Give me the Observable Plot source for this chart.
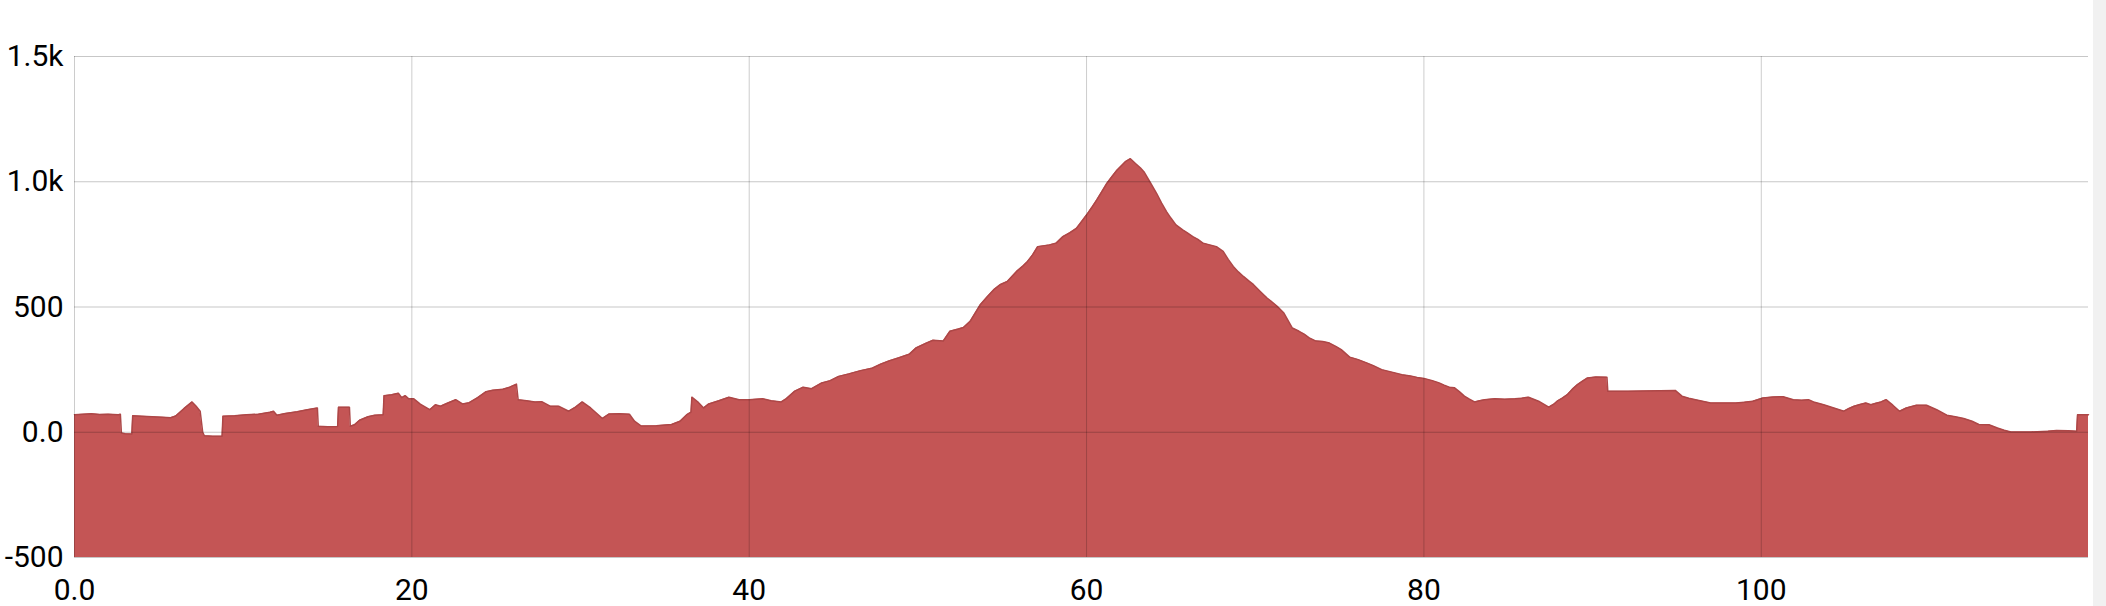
<!DOCTYPE html>
<html>
<head>
<meta charset="utf-8">
<script src="https://cdn.jsdelivr.net/npm/d3@7"></script>
<script src="https://cdn.jsdelivr.net/npm/@observablehq/plot@0.6"></script>
<style>
  html, body { margin: 0; padding: 0; background: #fff; overflow: hidden; }
  #chart { position: absolute; left: 0; top: 0; }
  #strip { position: absolute; right: 0; top: 0; width: 13px; height: 606px; background: #f1f1f1; }
</style>
</head>
<body>
<div id="chart"></div>
<div id="strip"></div>
<script>
// Distance along the route (x) and elevation (y)
const distance = [
  0, 0.5, 1.0, 1.5, 2.0, 2.6, 2.72, 2.78, 3.0, 3.4, 3.45, 4.0, 4.6, 5.2, 5.7, 6.0, 6.5, 6.97, 7.2, 7.45,
  7.6, 7.7, 8.2, 8.75, 8.8, 9.5, 10.2, 10.9, 11.6, 11.8, 12.0, 12.5, 13.2, 13.8, 14.4, 14.45, 15.0, 15.6, 15.65, 16.3,
  16.35, 16.6, 16.9, 17.4, 17.8, 18.3, 18.35, 18.8, 19.2, 19.4, 19.6, 19.8, 20.1, 20.5, 21.06, 21.4, 21.7, 22.1, 22.6, 23.0,
  23.4, 23.9, 24.4, 24.8, 25.4, 25.8, 26.2, 26.3, 26.8, 27.3, 27.7, 28.2, 28.7, 29.3, 29.7, 30.1, 30.6, 31.3, 31.7, 32.3,
  32.9, 33.2, 33.6, 34.5, 35.4, 35.9, 36.3, 36.55, 36.6, 37.0, 37.3, 37.6, 38.2, 38.8, 39.4, 40.0, 40.8, 41.3, 41.9, 42.2,
  42.7, 43.2, 43.7, 44.3, 44.8, 45.3, 45.9, 46.6, 47.3, 47.8, 48.3, 48.9, 49.5, 49.9, 50.5, 50.9, 51.5, 51.9, 52.4, 52.7,
  53.1, 53.7, 54.1, 54.5, 54.9, 55.3, 55.85, 56.2, 56.5, 56.8, 57.1, 57.5, 57.8, 58.2, 58.6, 59.0, 59.4, 59.7, 60.0, 60.3,
  60.6, 60.9, 61.2, 61.5, 61.8, 62.3, 62.6, 62.9, 63.2, 63.4, 63.75, 64.15, 64.45, 64.74, 65.0, 65.3, 65.7, 66.0, 66.3, 66.6,
  66.9, 67.3, 67.7, 68.1, 68.4, 68.7, 69.0, 69.3, 69.6, 69.9, 70.3, 70.7, 71.0, 71.3, 71.7, 72.0, 72.2, 72.6, 72.9, 73.2,
  73.6, 74.0, 74.4, 74.8, 75.1, 75.6, 76.1, 76.6, 77.0, 77.5, 78.1, 78.7, 79.2, 79.6, 80.0, 80.5, 80.9, 81.2, 81.5, 81.8,
  82.1, 82.4, 82.7, 83.0, 83.3, 83.6, 84.2, 84.8, 85.4, 85.8, 86.2, 86.5, 86.8, 87.1, 87.4, 87.7, 87.9, 88.2, 88.5, 88.8,
  89.1, 89.4, 89.7, 90.2, 90.85, 90.9, 91.5, 92.1, 93.0, 94.0, 94.9, 95.3, 95.7, 96.1, 97.0, 97.8, 98.5, 99.0, 99.5, 100.1,
  100.7, 101.3, 101.9, 102.4, 102.8, 103.1, 103.7, 104.3, 104.9, 105.2, 105.5, 105.8, 106.2, 106.5, 106.8, 107.1, 107.4, 107.8, 108.2, 108.6,
  109.2, 109.8, 110.4, 111.0, 111.5, 112.0, 112.5, 112.9, 113.5, 114.0, 114.4, 114.8, 116.0, 117.0, 117.5, 118.2, 118.7, 118.75, 119.4
];
const elevation = [
  70, 72, 74, 71, 72, 70, 72, -3, -6, -7, 66, 64, 62, 60, 58, 65, 95, 121, 105, 84,
  0, -14, -16, -16, 64, 66, 70, 72, 80, 84, 68, 75, 82, 90, 97, 24, 22, 23, 100, 100,
  24, 30, 48, 62, 68, 70, 146, 150, 156, 138, 146, 134, 134, 112, 90, 110, 104, 116, 130, 113,
  118, 138, 162, 168, 172, 180, 192, 130, 126, 121, 122, 104, 104, 84, 100, 121, 97, 55, 73, 74,
  72, 44, 25, 26, 31, 44, 70, 80, 140, 118, 97, 113, 126, 140, 130, 130, 134, 126, 121, 134,
  164, 180, 174, 197, 206, 223, 233, 246, 256, 272, 285, 298, 312, 337, 356, 367, 364, 403, 412, 418,
  443, 509, 540, 569, 590, 602, 642, 662, 682, 708, 741, 745, 748, 755, 781, 796, 814, 840, 867, 896,
  927, 960, 993, 1020, 1046, 1080, 1092, 1073, 1055, 1040, 1000, 954, 915, 881, 855, 828, 808, 795, 781, 770,
  755, 748, 741, 722, 690, 662, 640, 622, 605, 589, 562, 536, 520, 503, 476, 440, 416, 403, 392, 377,
  364, 362, 356, 342, 330, 300, 290, 277, 266, 250, 240, 230, 225, 219, 215, 206, 197, 188, 180, 178,
  162, 144, 132, 121, 126, 130, 134, 132, 134, 136, 140, 132, 124, 112, 100, 112, 124, 136, 150, 172,
  190, 204, 217, 221, 220, 164, 164, 164, 165, 166, 167, 144, 136, 130, 117, 117, 117, 120, 124, 137,
  141, 142, 130, 128, 130, 121, 110, 97, 84, 95, 104, 110, 117, 110, 116, 121, 130, 108, 84, 97,
  108, 108, 90, 68, 62, 55, 44, 31, 30, 17, 8, 1, 1, 4, 7, 6, 4, 70, 70
];
const xTicks = [0, 20, 40, 60, 80, 100];
const xTickLabels = ["0.0", "20", "40", "60", "80", "100"];
const yTicks = [-500, 0, 500, 1000, 1500];
const yTickLabels = ["-500", "0.0", "500", "1.0k", "1.5k"];

const data = distance.map((d, i) => ({distance: d, elevation: elevation[i]}));
const yMin = yTicks[0];

const chart = Plot.plot({
  width: 2106,
  height: 606,
  marginLeft: 74,
  marginRight: 18,
  marginTop: 56,
  marginBottom: 49,
  style: {fontFamily: "Roboto, sans-serif", fontSize: "30px", color: "#000", background: "transparent"},
  x: {domain: [0, 119.4], label: null},
  y: {domain: [yMin, yTicks[yTicks.length - 1]], label: null},
  marks: [
    Plot.areaY(data, {x: "distance", y1: yMin, y2: "elevation", fill: "#c45555"}),
    Plot.lineY(data, {x: "distance", y: "elevation", stroke: "#ad4747", strokeWidth: 1.5}),
    Plot.gridX(xTicks, {stroke: "#000", strokeOpacity: 0.2, strokeWidth: 1}),
    Plot.gridY(yTicks, {stroke: "#000", strokeOpacity: 0.22, strokeWidth: 1}),
    Plot.axisX(xTicks, {tickSize: 0, tickPadding: 21, tickFormat: (d) => xTickLabels[xTicks.indexOf(d)], fontSize: 30, fill: "#000"}),
    Plot.axisY(yTicks, {tickSize: 0, tickPadding: 11, tickFormat: (d) => yTickLabels[yTicks.indexOf(d)], fontSize: 30, fill: "#000"})
  ]
});
document.getElementById("chart").appendChild(chart);
</script>
</body>
</html>
